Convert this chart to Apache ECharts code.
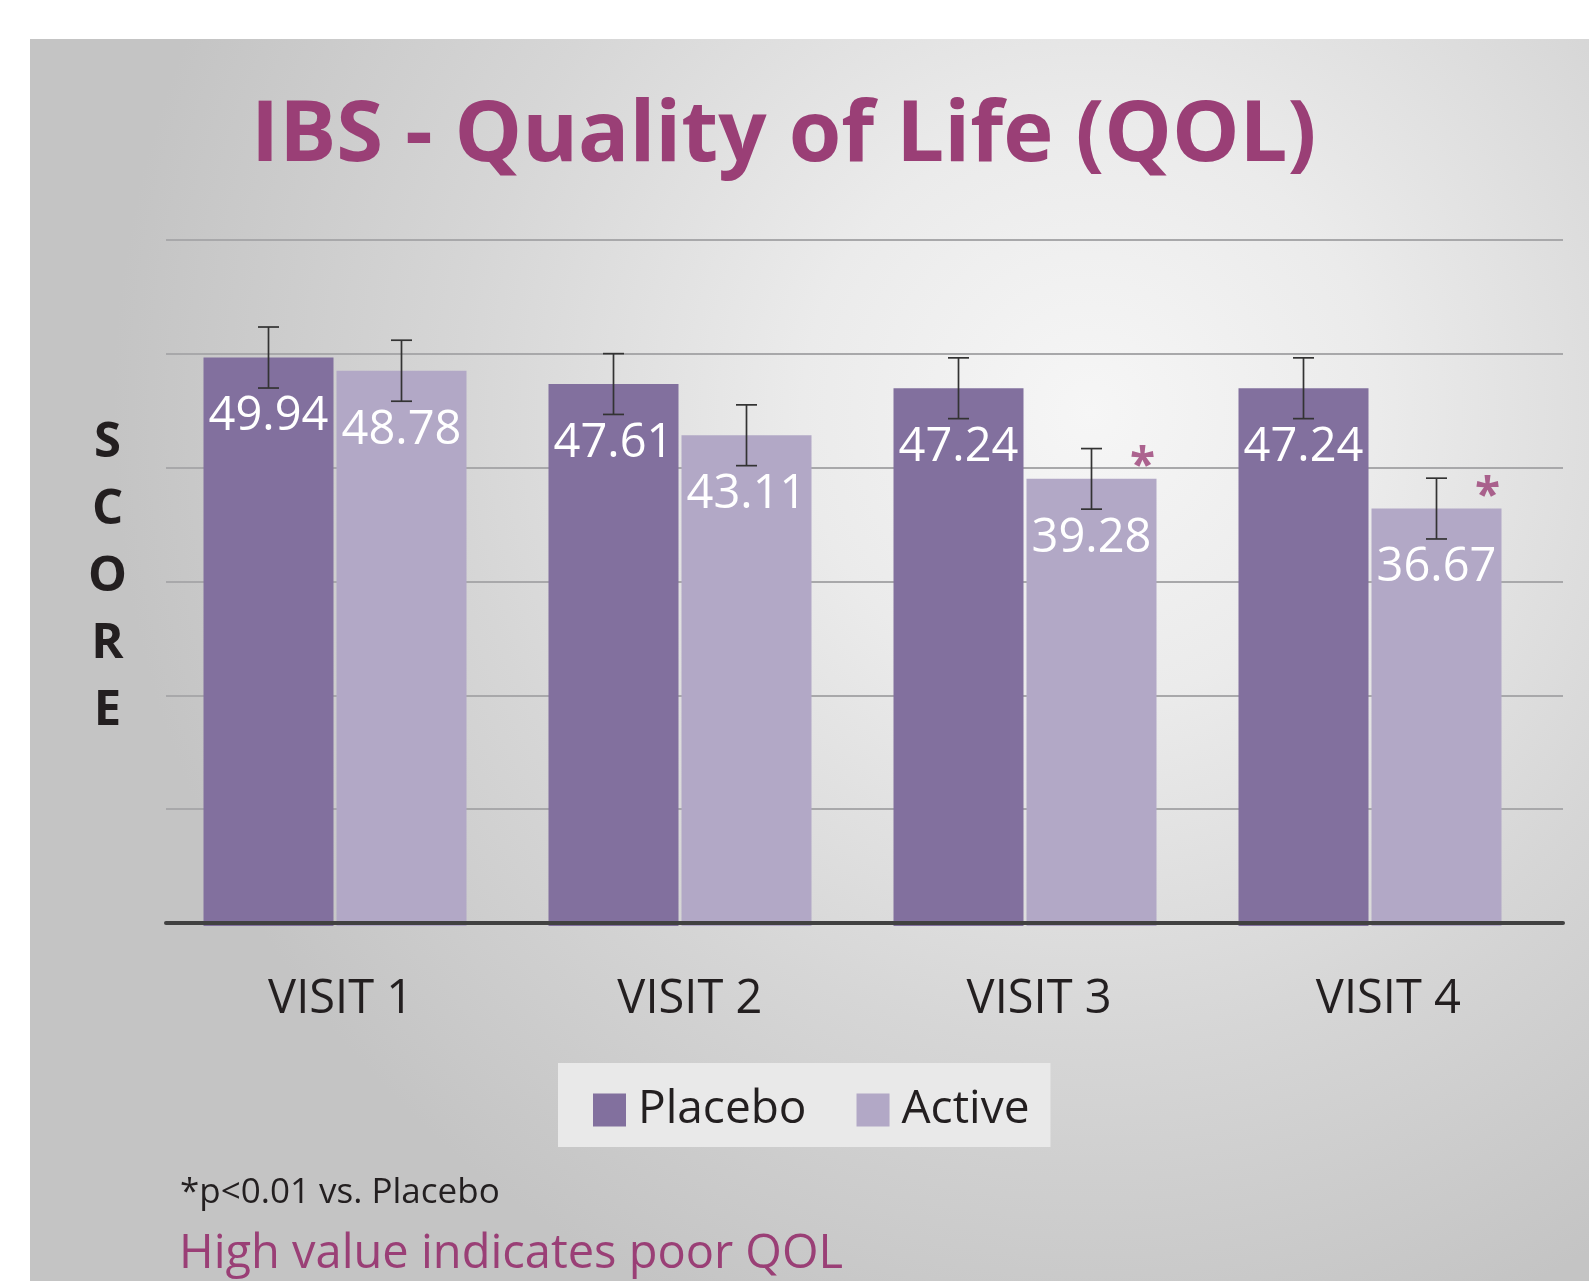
<!DOCTYPE html>
<html>
<head>
<meta charset="utf-8">
<script src="https://cdn.jsdelivr.net/npm/echarts/dist/echarts.min.js"></script>
<style>
  html, body { margin: 0; padding: 0; background: #ffffff; }
  #wrap { position: relative; width: 1589px; height: 1281px; overflow: hidden; }
  #panel {
    position: absolute; left: 30px; top: 39px; width: 1559px; height: 1242px;
    background: radial-gradient(circle 1150px at 1060px 373px, #f6f6f6 0%, #ebebeb 25%, #d6d6d6 55%, #c4c4c4 85%);
  }
  #myChart { position: absolute; left: 0; top: 0; width: 1589px; height: 1281px; }
</style>
</head>
<body>
<div id="wrap">
  <div id="panel"></div>
  <div id="myChart"></div>
</div>
<script>
// data
const categories = ['VISIT 1', 'VISIT 2', 'VISIT 3', 'VISIT 4'];
const placebo = [49.94, 47.61, 47.24, 47.24];
const active = [48.78, 43.11, 39.28, 36.67];
const placeboErr = [2.68, 2.67, 2.67, 2.67];
const activeErr = [2.68, 2.67, 2.66, 2.67];
const significant = [false, false, true, true];
const yTicks = [0, 10, 20, 30, 40, 50, 60];

const FONT = '"Open Sans", "Noto Sans", sans-serif';
const PLACEBO_COLOR = '#82709e';
const ACTIVE_COLOR = '#b2a8c6';
const MAGENTA = '#9a3f76';
const BAR_W = 130;
const BAR_GAP = 3;
const HALF_STEP = BAR_W / 2 + BAR_GAP / 2;

const chart = echarts.init(document.getElementById('myChart'));

// error bar rows: [category index, value, error, side]
const errData = [];
categories.forEach((c, i) => {
  errData.push([i, placebo[i], placeboErr[i], -1]);
  errData.push([i, active[i], activeErr[i], 1]);
});

function renderErr(params, api) {
  const i = api.value(0);
  const v = api.value(1);
  const e = api.value(2);
  const side = api.value(3);
  const hi = api.coord([i, v + e]);
  const lo = api.coord([i, v - e]);
  const x = hi[0] + side * HALF_STEP;
  const cap = 10.5;
  const style = { stroke: '#333333', lineWidth: 1.7 };
  return {
    type: 'group',
    children: [
      { type: 'line', shape: { x1: x, y1: hi[1], x2: x, y2: lo[1] }, style: style },
      { type: 'line', shape: { x1: x - cap, y1: hi[1], x2: x + cap, y2: hi[1] }, style: style },
      { type: 'line', shape: { x1: x - cap, y1: lo[1], x2: x + cap, y2: lo[1] }, style: style }
    ]
  };
}

const barLabel = {
  show: true,
  position: 'insideTop',
  distance: 36,
  color: '#ffffff',
  fontFamily: FONT,
  fontSize: 47,
  formatter: p => p.value.toFixed(2)
};

const option = {
  backgroundColor: 'transparent',
  animation: false,
  graphic: [
    {
      type: 'text', x: 251, y: 137,
      style: { text: 'IBS - Quality of Life (QOL)', fill: MAGENTA, fontFamily: FONT, fontWeight: 'bold', fontSize: 85, align: 'left', verticalAlign: 'middle' }
    },
    {
      type: 'text', x: 107.5, y: 410,
      style: { text: 'S\nC\nO\nR\nE', fill: '#231f20', fontFamily: FONT, fontWeight: 'bold', fontSize: 49, lineHeight: 67, align: 'center', verticalAlign: 'top' }
    },
    {
      type: 'text', x: 180, y: 1193,
      style: { text: '*p<0.01 vs. Placebo', fill: '#231f20', fontFamily: FONT, fontSize: 35, align: 'left', verticalAlign: 'middle' }
    },
    {
      type: 'text', x: 179, y: 1255,
      style: { text: 'High value indicates poor QOL', fill: MAGENTA, fontFamily: FONT, fontSize: 47, align: 'left', verticalAlign: 'middle' }
    }
  ],
  legend: {
    data: ['Placebo', 'Active'],
    left: 558,
    top: 1063,
    backgroundColor: '#e9e9e9',
    padding: [22, 21, 12, 35],
    itemWidth: 33,
    itemHeight: 33,
    itemGap: 50,
    icon: 'rect',
    textStyle: { fontFamily: FONT, fontSize: 46, color: '#231f20', lineHeight: 50, padding: [0, 0, 0, 7] }
  },
  grid: [
    // gridlines + category labels
    { left: 166, right: 26, top: 240, bottom: 358 },
    // bars
    { left: 162.5, width: 1380, top: 243, bottom: 355 }
  ],
  xAxis: [
    {
      gridIndex: 0, type: 'category', data: categories, z: 5,
      axisTick: { show: false },
      axisLine: { lineStyle: { color: '#414141', width: 4 } },
      axisLabel: { color: '#231f20', fontFamily: FONT, fontSize: 47, margin: 53 }
    },
    { gridIndex: 1, type: 'category', data: categories, show: false }
  ],
  yAxis: [
    {
      gridIndex: 0, type: 'value', min: yTicks[0], max: yTicks[yTicks.length - 1], interval: 10,
      axisLabel: { show: false }, axisLine: { show: false }, axisTick: { show: false },
      splitLine: { lineStyle: { color: '#a8a8aa', width: 2 } }
    },
    {
      gridIndex: 1, type: 'value', min: yTicks[0], max: yTicks[yTicks.length - 1], interval: 10, show: false,
      splitLine: { show: false }
    }
  ],
  series: [
    {
      name: 'Placebo', type: 'bar', xAxisIndex: 1, yAxisIndex: 1,
      data: placebo, barWidth: BAR_W, barGap: (BAR_GAP / BAR_W * 100) + '%',
      itemStyle: { color: PLACEBO_COLOR }, label: barLabel
    },
    {
      name: 'Active', type: 'bar', xAxisIndex: 1, yAxisIndex: 1,
      data: active, barWidth: BAR_W,
      itemStyle: { color: ACTIVE_COLOR }, label: barLabel
    },
    {
      name: 'err', type: 'custom', xAxisIndex: 1, yAxisIndex: 1, z: 4,
      renderItem: renderErr, data: errData, silent: true
    },
    {
      name: 'sig', type: 'scatter', xAxisIndex: 1, yAxisIndex: 1, z: 4,
      symbolSize: 0, silent: true,
      data: active.map((v, i) => significant[i] ? v : '-'),
      label: {
        show: true, position: 'inside', offset: [HALF_STEP + 51, -11], formatter: '*',
        color: MAGENTA, fontFamily: FONT, fontWeight: 'bold', fontSize: 46
      }
    }
  ]
};

chart.setOption(option);
window.addEventListener('resize', () => chart.resize());
</script>
</body>
</html>
